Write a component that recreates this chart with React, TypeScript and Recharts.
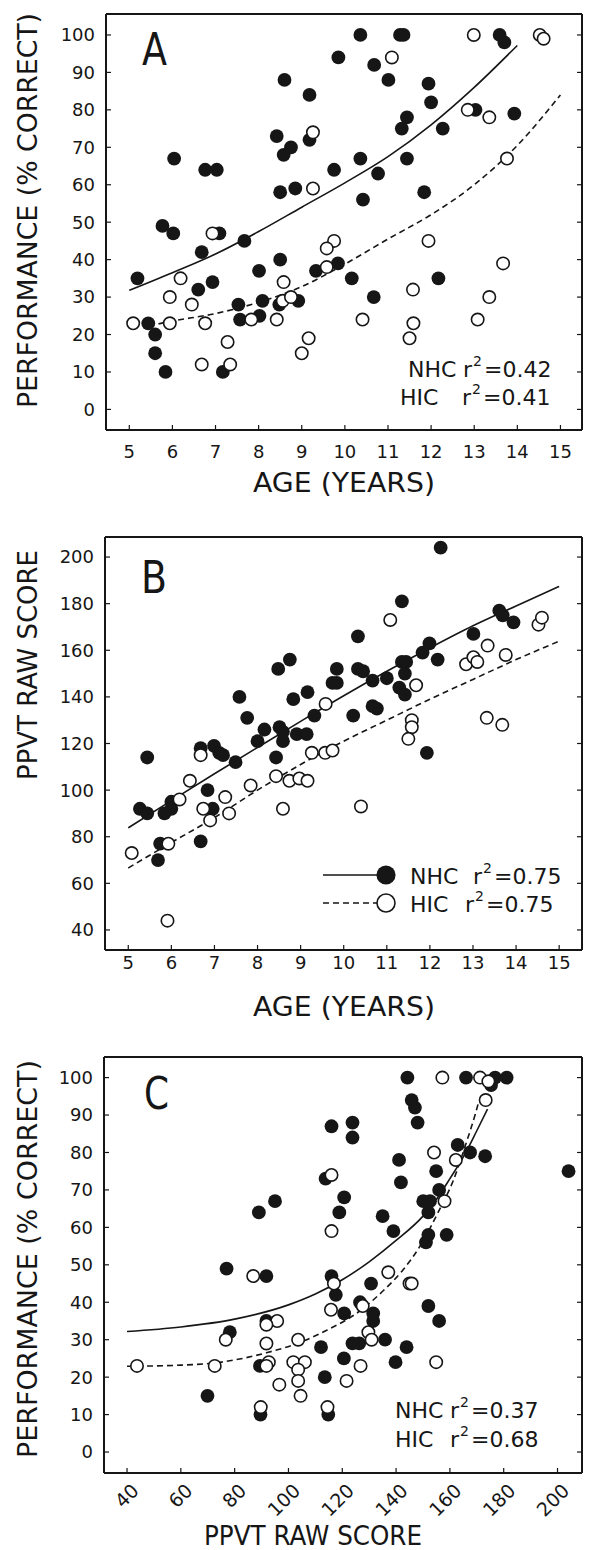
import React from "react";
import { ComposedChart, Scatter, Line, XAxis, YAxis } from "recharts";

const FONT = "'DejaVu Sans', sans-serif";
const INK = "#161616";

const ageTicks = [5, 6, 7, 8, 9, 10, 11, 12, 13, 14, 15];
const perfTicks = [0, 10, 20, 30, 40, 50, 60, 70, 80, 90, 100];
const ppvtTicks = [40, 60, 80, 100, 120, 140, 160, 180, 200];

// Panel A: age (years) vs performance (% correct)
const ageNhcPerf: [number, number][] = [
  [10.36, 100], [11.28, 100], [11.36, 100], [13.59, 100], [13.7, 98],
  [9.85, 94], [10.68, 92], [11.01, 88], [8.6, 88], [9.18, 84], [11.94, 87],
  [12.0, 82], [11.44, 78], [11.32, 75], [12.27, 75], [13.03, 80], [13.93, 79],
  [8.42, 73], [8.58, 68], [8.75, 70], [9.18, 72], [6.04, 67], [6.76, 64],
  [7.03, 64], [10.36, 67], [9.75, 64], [10.77, 63], [11.44, 67], [8.5, 58],
  [8.85, 59], [10.42, 56], [11.84, 58], [5.77, 49], [6.02, 47], [7.09, 47],
  [7.67, 45], [6.68, 42], [5.19, 35], [6.6, 32], [6.93, 34], [5.44, 23],
  [5.6, 20], [5.6, 15], [5.84, 10], [7.17, 10], [7.53, 28], [7.57, 24],
  [8.01, 37], [8.02, 25], [8.09, 29], [8.5, 40], [8.48, 28], [8.92, 29],
  [9.33, 37], [9.84, 39], [10.16, 35], [10.67, 30], [12.17, 35],
];
const ageHicPerf: [number, number][] = [
  [12.85, 80], [9.26, 74], [9.26, 59], [6.93, 47], [9.75, 45], [9.58, 43],
  [11.94, 45], [12.99, 100], [14.52, 100], [14.61, 99], [11.09, 94],
  [13.35, 78], [13.76, 67], [6.19, 35], [5.94, 30], [6.45, 28], [5.09, 23],
  [5.94, 23], [6.76, 23], [6.68, 12], [7.28, 18], [7.34, 12], [7.83, 24],
  [8.42, 24], [8.58, 34], [8.56, 29], [8.75, 30], [9.0, 15], [9.16, 19],
  [9.58, 38], [10.41, 24], [11.58, 32], [11.59, 23], [11.5, 19], [13.08, 24],
  [13.35, 30], [13.67, 39],
];
const ageNhcPerfFit: [number, number][] = [
  [5, 31.8], [6, 36.5], [7, 41.5], [8, 47.5], [9, 54], [10, 60.5],
  [11, 67.5], [12, 76], [13, 86], [14, 97.2],
];
const ageHicPerfFit: [number, number][] = [
  [5.45, 22.3], [6, 23.6], [7, 25.6], [8, 28.6], [9, 32.8], [10, 38.8],
  [11, 45.5], [12, 52], [13, 60], [14, 70.5], [15, 84],
];

// Panel B: age (years) vs PPVT raw score
const ageNhcPpvt: [number, number][] = [
  [12.25, 204], [11.35, 181], [10.33, 166], [13.61, 177], [13.69, 175],
  [13.94, 172], [13.01, 167], [11.99, 163], [11.83, 159], [12.18, 156],
  [11.35, 155], [11.45, 155], [11.42, 150], [11.29, 144], [11.42, 141],
  [11.0, 148], [10.67, 147], [10.33, 152], [10.45, 151], [9.84, 152],
  [9.74, 146], [9.84, 146], [10.67, 136], [10.77, 135], [10.22, 132],
  [8.48, 152], [8.75, 156], [7.58, 140], [7.76, 131], [8.83, 139],
  [9.16, 142], [9.32, 132], [8.0, 121], [8.16, 126], [8.51, 127],
  [8.59, 125], [8.59, 121], [8.91, 124], [9.14, 124], [11.93, 116],
  [5.44, 114], [6.68, 118], [6.99, 119], [7.11, 116], [7.2, 115],
  [7.49, 112], [8.43, 114], [5.27, 92], [5.44, 90], [6.0, 95], [6.0, 92],
  [5.84, 90], [5.74, 77], [5.69, 70], [6.84, 100], [6.96, 92], [6.68, 78],
];
const ageHicPpvt: [number, number][] = [
  [11.08, 173], [14.52, 171], [14.6, 174], [13.34, 162], [12.84, 154],
  [13.01, 157], [13.1, 155], [13.76, 158], [11.68, 145], [13.32, 131],
  [13.68, 128], [9.58, 137], [11.58, 130], [11.58, 127], [11.5, 122],
  [9.26, 116], [9.57, 116], [9.74, 117], [6.68, 115], [6.43, 104],
  [6.19, 96], [6.74, 92], [6.9, 87], [7.25, 97], [7.34, 90], [5.93, 77],
  [5.08, 73], [5.91, 44], [7.84, 102], [8.43, 106], [8.59, 92], [8.74, 104],
  [8.97, 105], [9.16, 104], [10.4, 93],
];
const ageNhcPpvtFit: [number, number][] = [
  [5, 83.8], [6, 95.5], [7, 107], [8, 118.3], [9, 129.5], [10, 140.5],
  [11, 151], [12, 161], [13, 170.5], [14, 179], [15, 187.4],
];
const ageHicPpvtFit: [number, number][] = [
  [5, 66.6], [6, 77.5], [7, 88.2], [8, 100], [9, 111], [10, 121], [11, 130],
  [12, 139], [13, 147.5], [14, 156], [15, 163.9],
];

// Panel C: PPVT raw score vs performance (% correct)
const ppvtNhcPerf: [number, number][] = [
  [144.2, 100], [166.0, 100], [176.8, 100], [181.1, 100], [175.3, 98],
  [145.8, 94], [147.0, 92], [148.0, 88], [116.0, 87], [123.8, 88],
  [123.8, 84], [162.9, 82], [167.5, 80], [173.1, 79], [204.1, 75],
  [141.1, 78], [154.9, 75], [141.8, 72], [113.8, 73], [120.7, 68], [95, 67],
  [89, 64], [118.9, 64], [156, 70], [150.1, 67], [152.6, 67], [152, 64],
  [135, 63], [139, 59], [152, 58], [151.1, 56], [158.8, 58], [77, 49],
  [91.8, 47], [116, 47], [130.7, 45], [117.6, 42], [120.7, 37], [126.6, 40],
  [131.5, 37], [131.5, 35], [152, 39], [156, 35], [78.2, 32], [91.8, 35],
  [112.1, 28], [123.8, 29], [126.3, 29], [135.9, 30], [143.9, 28],
  [120.6, 25], [139.8, 24], [89.4, 23], [113.5, 20], [69.9, 15], [89.6, 10],
  [114.8, 10],
];
const ppvtHicPerf: [number, number][] = [
  [157.2, 100], [171.2, 100], [174.3, 99], [173.3, 94], [154.1, 80],
  [162.2, 78], [158, 67], [116, 74], [116, 59], [137.1, 48], [145, 45],
  [145.8, 45], [86.9, 47], [116.9, 45], [115.8, 38], [127.6, 39], [95.8, 35],
  [91.8, 34], [76.7, 30], [91.8, 29], [103.6, 30], [129.7, 32], [130.9, 30],
  [43.7, 23], [72.6, 23], [92.7, 24], [91.8, 23], [101.8, 24], [106.1, 24],
  [103.6, 22], [103.6, 19], [96.6, 18], [104.5, 15], [121.6, 19],
  [126.8, 23], [154.9, 24], [89.7, 12], [114.5, 12],
];
const ppvtNhcPerfFit: [number, number][] = [
  [40, 32.2], [60, 33.4], [80, 35.5], [100, 39.3], [110, 42.2], [120, 46],
  [130, 50.8], [140, 56.5], [150, 63], [155, 67.5], [160, 73], [165, 78.8],
  [170, 85.8], [174, 91.6],
];
const ppvtHicPerfFit: [number, number][] = [
  [40, 22.9], [60, 23.2], [72.6, 23.8], [91.8, 26.5], [104.7, 29.4],
  [114.2, 32.5], [126, 37.4], [135.4, 43.2], [142.4, 48.5], [149.5, 55.7],
  [155.4, 63.7], [161.3, 72.6], [166, 82.4], [169.5, 90.4], [170.5, 93],
];

const toRows = (pts: [number, number][]) => pts.map(([x, y]) => ({ x, y }));

const filledDot = (p: any) => (
  <circle cx={p.cx} cy={p.cy} r={6.9} fill={INK} />
);
const openDot = (p: any) => (
  <circle cx={p.cx} cy={p.cy} r={6.2} fill="#fff" stroke={INK} strokeWidth={1.6} />
);
const noLabel = () => <g />;

const SlantTick = (p: any) => {
  const x = p.x + 13;
  return (
    <text
      x={x}
      y={p.y}
      transform={`rotate(-45 ${x} ${p.y})`}
      textAnchor="end"
      fontSize={19}
      fontFamily={FONT}
      fill={INK}
    >
      {p.payload.value}
    </text>
  );
};

interface PanelProps {
  top: number;
  height: number;
  plot: { left: number; top: number; right: number; bottom: number };
  xDomain: [number, number];
  yDomain: [number, number];
  xTicks: number[];
  yTicks: number[];
  xTickMargin: number;
  slantX?: boolean;
  nhc: [number, number][];
  hic: [number, number][];
  nhcFit: [number, number][];
  hicFit: [number, number][];
}

const Y_AXIS_W = 50;
const X_AXIS_H = 40;
const TICK = -5;

function Panel(props: PanelProps) {
  const { top, height, plot } = props;
  // the top and right axes are 1px thick boxes whose lines sit on the plot edge
  const margin = {
    top: plot.top - top - 1,
    left: plot.left - Y_AXIS_W,
    right: 602 - plot.right - 1,
    bottom: height - (plot.bottom - top) - X_AXIS_H,
  };
  const axisStyle = { stroke: INK, strokeWidth: 2 };
  const tickStyle = { stroke: INK, strokeWidth: 1.2 };
  const tickFont = { fill: INK, fontSize: 18, fontFamily: FONT };
  return (
    <div style={{ position: "absolute", left: 0, top }}>
      <ComposedChart width={602} height={height} margin={margin}>
        <XAxis
          type="number"
          dataKey="x"
          domain={props.xDomain}
          ticks={props.xTicks}
          allowDataOverflow
          height={X_AXIS_H}
          axisLine={axisStyle}
          tickLine={tickStyle}
          tickSize={TICK}
          tickMargin={props.xTickMargin}
          tick={props.slantX ? <SlantTick /> : tickFont}
          interval={0}
        />
        <XAxis
          xAxisId="top"
          orientation="top"
          type="number"
          domain={props.xDomain}
          ticks={props.xTicks}
          allowDataOverflow
          height={1}
          axisLine={axisStyle}
          tickLine={tickStyle}
          tickSize={TICK}
          tick={noLabel}
          interval={0}
        />
        <YAxis
          type="number"
          dataKey="y"
          domain={props.yDomain}
          ticks={props.yTicks}
          allowDataOverflow
          width={Y_AXIS_W}
          axisLine={axisStyle}
          tickLine={tickStyle}
          tickSize={TICK}
          tickMargin={16}
          tick={tickFont}
          interval={0}
        />
        <YAxis
          yAxisId="right"
          orientation="right"
          type="number"
          domain={props.yDomain}
          ticks={props.yTicks}
          allowDataOverflow
          width={1}
          axisLine={axisStyle}
          tickLine={tickStyle}
          tickSize={TICK}
          tick={noLabel}
          interval={0}
        />
        <Scatter
          data={toRows(props.nhc)}
          dataKey="y"
          shape={filledDot}
          isAnimationActive={false}
        />
        <Scatter
          data={toRows(props.hic)}
          dataKey="y"
          shape={openDot}
          isAnimationActive={false}
        />
        <Line
          data={toRows(props.nhcFit)}
          dataKey="y"
          type="monotone"
          stroke={INK}
          strokeWidth={1.6}
          dot={false}
          activeDot={false}
          isAnimationActive={false}
        />
        <Line
          data={toRows(props.hicFit)}
          dataKey="y"
          type="monotone"
          stroke={INK}
          strokeWidth={1.6}
          strokeDasharray="6 4"
          dot={false}
          activeDot={false}
          isAnimationActive={false}
        />
      </ComposedChart>
    </div>
  );
}

function RSquared(props: { x: number; rx: number; y: number; group: string; value: string }) {
  const { x, rx, y, group, value } = props;
  return (
    <g fontFamily={FONT} fill={INK}>
      <text x={x} y={y} fontSize={22}>{group}</text>
      <text x={rx} y={y} fontSize={22}>r</text>
      <text x={rx + 10} y={y - 11} fontSize={14}>2</text>
      <text x={rx + 21} y={y} fontSize={22}>{value}</text>
    </g>
  );
}

function Texts() {
  const title = { fontFamily: FONT, fontSize: 27, fill: INK, lengthAdjust: "spacingAndGlyphs" as const };
  const letter = { fontFamily: FONT, fontSize: 44, fill: INK, lengthAdjust: "spacingAndGlyphs" as const };
  return (
    <svg
      width={602}
      height={1550}
      style={{ position: "absolute", left: 0, top: 0, pointerEvents: "none" }}
    >
      <text x={142} y={65} textLength={25} {...letter}>A</text>
      <text x={141} y={593} textLength={26} {...letter}>B</text>
      <text x={144} y={1109} textLength={25} {...letter}>C</text>

      <text transform="translate(37 210.5) rotate(-90)" textAnchor="middle" textLength={395} {...title}>
        PERFORMANCE (% CORRECT)
      </text>
      <text transform="translate(37 665) rotate(-90)" textAnchor="middle" textLength={230} {...title}>
        PPVT RAW SCORE
      </text>
      <text transform="translate(37 1259) rotate(-90)" textAnchor="middle" textLength={398} {...title}>
        PERFORMANCE (% CORRECT)
      </text>

      <text x={344} y={492} textAnchor="middle" textLength={182} {...title}>AGE (YEARS)</text>
      <text x={344} y={1016} textAnchor="middle" textLength={182} {...title}>AGE (YEARS)</text>
      <text x={313} y={1545} textAnchor="middle" textLength={218} {...title}>PPVT RAW SCORE</text>

      <RSquared x={408} rx={463} y={377} group="NHC" value="=0.42" />
      <RSquared x={400} rx={462} y={405} group="HIC" value="=0.41" />

      <line x1={323} x2={377} y1={875} y2={875} stroke={INK} strokeWidth={1.6} />
      <circle cx={386} cy={875} r={9.6} fill={INK} />
      <line x1={323} x2={377} y1={903} y2={903} stroke={INK} strokeWidth={1.6} strokeDasharray="6 4" />
      <circle cx={386} cy={903} r={9} fill="#fff" stroke={INK} strokeWidth={1.6} />
      <RSquared x={410} rx={473} y={884} group="NHC" value="=0.75" />
      <RSquared x={410} rx={465} y={912} group="HIC" value="=0.75" />

      <RSquared x={395} rx={450} y={1418} group="NHC" value="=0.37" />
      <RSquared x={395} rx={450} y={1447} group="HIC" value="=0.68" />
    </svg>
  );
}

export default function App() {
  return (
    <div style={{ position: "absolute", left: 0, top: 0, width: 602, height: 1550, background: "#fff" }}>
      <Panel
        top={0}
        height={505}
        plot={{ left: 106, top: 14, right: 582, bottom: 430 }}
        xDomain={[4.46, 15.5]}
        yDomain={[-5.5, 105.6]}
        xTicks={ageTicks}
        yTicks={perfTicks}
        xTickMargin={20}
        nhc={ageNhcPerf}
        hic={ageHicPerf}
        nhcFit={ageNhcPerfFit}
        hicFit={ageHicPerfFit}
      />
      <Panel
        top={515}
        height={505}
        plot={{ left: 105, top: 537, right: 582, bottom: 950 }}
        xDomain={[4.46, 15.53]}
        yDomain={[31.4, 208.6]}
        xTicks={ageTicks}
        yTicks={ppvtTicks}
        xTickMargin={11}
        nhc={ageNhcPpvt}
        hic={ageHicPpvt}
        nhcFit={ageNhcPpvtFit}
        hicFit={ageHicPpvtFit}
      />
      <Panel
        top={1030}
        height={520}
        plot={{ left: 104, top: 1057, right: 582, bottom: 1473 }}
        xDomain={[31.44, 209.1]}
        yDomain={[-5.6, 105.5]}
        xTicks={ppvtTicks}
        yTicks={perfTicks}
        xTickMargin={24}
        slantX
        nhc={ppvtNhcPerf}
        hic={ppvtHicPerf}
        nhcFit={ppvtNhcPerfFit}
        hicFit={ppvtHicPerfFit}
      />
      <Texts />
    </div>
  );
}
